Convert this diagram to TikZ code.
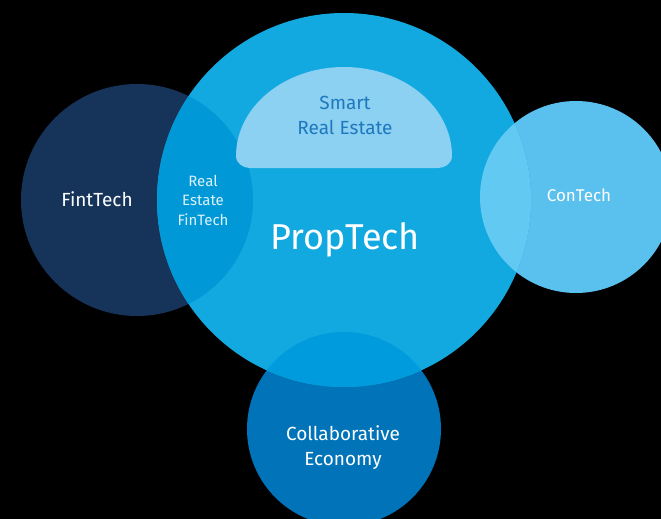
\documentclass[tikz,border=0pt]{standalone}
\usepackage{fontspec}
\setmainfont{Fira Sans}
\definecolor{propcolor}{RGB}{18,168,224}
\definecolor{fintcolor}{RGB}{22,52,90}
\definecolor{fintovercolor}{RGB}{0,152,215}
\definecolor{concolor}{RGB}{90,192,238}
\definecolor{conovercolor}{RGB}{98,201,242}
\definecolor{collabcolor}{RGB}{0,115,185}
\definecolor{collabovercolor}{RGB}{0,155,220}
\definecolor{smartcolor}{RGB}{140,208,242}
\definecolor{smarttext}{RGB}{30,120,190}

\begin{document}
\begin{tikzpicture}[
    x=1pt, y=-1pt,
    label/.style={text=white, align=center, inner sep=0pt, font=\fontsize{19}{25}\selectfont},
    smalllabel/.style={label, text=white!85!propcolor, font=\fontsize{15}{19.5}\selectfont},
    biglabel/.style={label, font=\fontsize{36}{40}\selectfont}
]

% Background
\fill[black] (0,0) rectangle (661,519);
\useasboundingbox (0,0) rectangle (661,519);

% Circles
\fill[fintcolor] (137,200) circle[radius=116pt];
\fill[concolor] (576,197) circle[radius=96pt];
\fill[collabcolor] (344,429) circle[radius=97pt];
\fill[propcolor] (344,200) circle[radius=187pt];

% Overlaps with PropTech
\begin{scope}
    \clip (344,200) circle[radius=187pt];
    \fill[fintovercolor] (137,200) circle[radius=116pt];
    \fill[conovercolor] (576,197) circle[radius=96pt];
    \fill[collabovercolor] (344,429) circle[radius=97pt];
\end{scope}

% Smart Real Estate dome
\fill[smartcolor] (344,168) -- (250,168) to[out=180,in=-90] (236,156)
    arc[start angle=180, end angle=0, x radius=108pt, y radius=89pt]
    to[out=-90,in=0] (438,168) -- cycle;

% Labels
\node[label, text=smarttext] (smart) at (345,115) {Smart\\Real Estate};
\node[label] (fintech) at (97,199) {FintTech};
\node[smalllabel] (refintech) at (203,200) {Real\\Estate\\FinTech};
\node[biglabel] (proptech) at (345,240) {PropTech};
\node[label, font=\fontsize{17}{20}\selectfont] (contech) at (579,195) {ConTech};
\node[label] (collab) at (343,448) {Collaborative\\Economy};

\end{tikzpicture}
\end{document}
